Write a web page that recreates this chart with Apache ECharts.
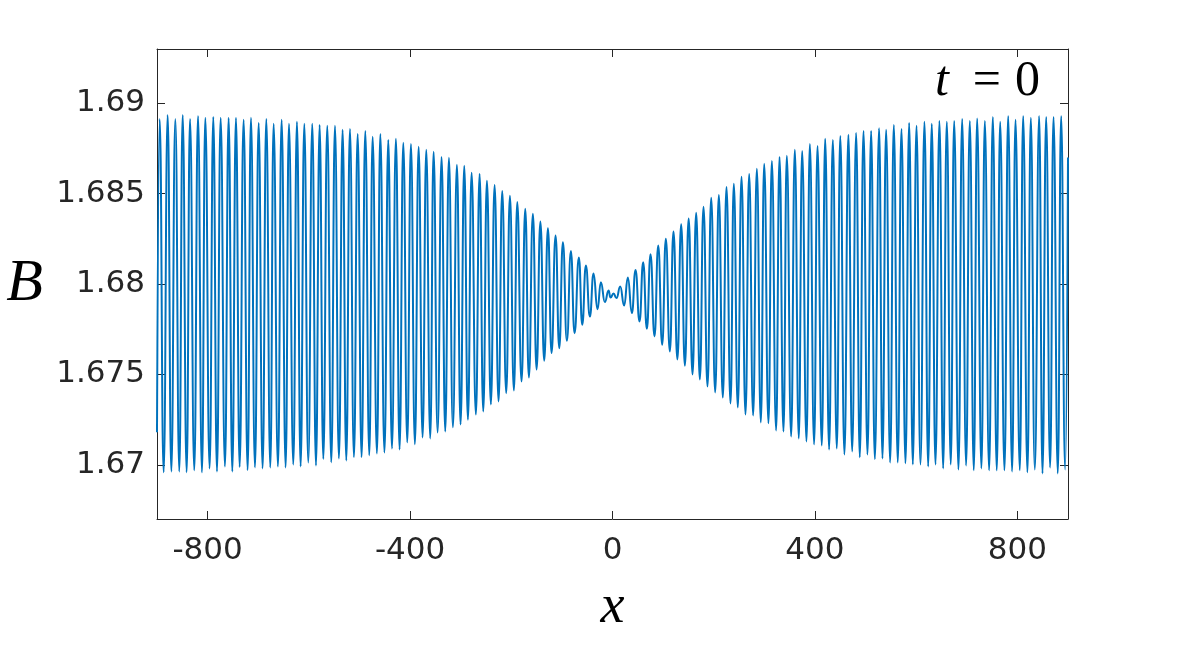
<!DOCTYPE html>
<html>
<head>
<meta charset="utf-8">
<script src="https://cdn.jsdelivr.net/npm/echarts@6/dist/echarts.min.js"></script>
<style>html,body{margin:0;padding:0;background:#fff}#c{width:1180px;height:650px}</style>
</head>
<body>
<div id="c"></div>
<script>
// Local maxima of B(x)
const peakX = [
-894.7,-878.9,-863.8,-849.3,-834.8,-819.0,-804.6,-788.8,-774.3,-758.5,
-744.0,-728.9,-714.4,-699.2,-684.1,-669.6,-653.8,-639.3,-623.5,-609.0,
-593.2,-578.7,-563.6,-548.4,-533.3,-518.8,-503.6,-488.5,-474.0,-458.8,
-443.0,-427.9,-413.4,-398.3,-383.1,-368.0,-353.5,-337.7,-323.2,-307.4,
-292.9,-278.4,-262.6,-248.1,-233.0,-217.9,-202.7,-188.2,-172.4,-157.3,
-142.5,-127.6,-112.5,-98.0,-82.2,-66.4,-52.6,-37.5,-23.0,-7.8,
2.0,15.2,30.3,45.5,60.6,75.1,90.3,105.4,120.5,135.7,
150.5,165.3,179.8,195.0,210.1,225.2,239.7,254.9,270.0,285.2,
299.7,314.8,330.0,344.4,360.2,374.7,389.9,405.0,420.2,435.3,
450.0,466.1,481.4,495.9,511.0,526.8,540.6,555.8,570.9,586.1,
600.6,616.4,630.8,646.0,660.5,675.0,690.8,705.9,720.4,735.6,
751.4,765.9,781.7,796.2,811.3,826.5,843.0,856.8,871.3,886.4
];
const peakB = [
1.68913,1.68935,1.68913,1.68935,1.68913,1.68930,1.68919,1.68924,1.68919,1.68919,
1.68919,1.68908,1.68919,1.68891,1.68913,1.68886,1.68908,1.68886,1.68897,1.68886,
1.68886,1.68880,1.68875,1.68875,1.68853,1.68858,1.68830,1.68847,1.68814,1.68830,
1.68797,1.68803,1.68781,1.68775,1.68759,1.68742,1.68731,1.68703,1.68698,1.68659,
1.68654,1.68615,1.68609,1.68571,1.68548,1.68515,1.68488,1.68454,1.68416,1.68388,
1.68346,1.68309,1.68268,1.68231,1.68183,1.68147,1.68102,1.68058,1.68010,1.67964,
1.67947,1.67986,1.68036,1.68078,1.68121,1.68165,1.68213,1.68250,1.68290,1.68331,
1.68362,1.68394,1.68427,1.68477,1.68493,1.68537,1.68554,1.68593,1.68609,1.68637,
1.68665,1.68681,1.68703,1.68709,1.68742,1.68736,1.68775,1.68764,1.68803,1.68797,
1.68819,1.68825,1.68836,1.68847,1.68847,1.68862,1.68853,1.68880,1.68858,1.68891,
1.68875,1.68897,1.68886,1.68902,1.68897,1.68902,1.68913,1.68902,1.68915,1.68902,
1.68924,1.68897,1.68930,1.68908,1.68930,1.68919,1.68930,1.68924,1.68924,1.68930
];
// Local minima of B(x)
const troughX = [
-886.9,-871.7,-855.9,-841.4,-826.3,-811.1,-796.0,-781.5,-765.7,-751.2,
-736.7,-720.9,-706.4,-691.3,-676.1,-661.0,-645.8,-630.7,-616.2,-601.1,
-585.9,-571.4,-555.6,-540.5,-526.0,-510.8,-495.7,-480.5,-465.4,-450.6,
-435.8,-420.7,-405.5,-390.4,-375.2,-360.1,-345.6,-330.5,-315.3,-300.2,
-285.7,-269.9,-255.4,-240.3,-225.1,-210.0,-194.8,-179.7,-165.2,-150.0,
-134.9,-120.4,-105.2,-90.1,-75.0,-59.8,-44.7,-29.6,-15.1,-3.9,
8.0,23.1,38.3,53.4,67.9,83.0,98.2,113.3,128.2,143.0,
158.1,172.6,187.7,202.9,218.0,233.2,247.6,262.8,277.9,293.1,
308.2,323.3,337.8,353.0,368.1,383.3,398.4,413.6,428.0,443.2,
458.3,473.5,488.6,503.8,518.3,533.4,548.6,563.7,578.9,593.4,
608.5,623.7,638.1,653.3,668.4,683.6,698.7,713.9,729.0,744.2,
759.3,774.5,789.6,804.8,819.9,834.4,849.6,864.7,879.9,894.4
];
const troughB = [
1.66958,1.66963,1.66963,1.66958,1.66969,1.66958,1.66980,1.66963,1.66991,1.66963,
1.66987,1.66969,1.66985,1.66980,1.66985,1.66991,1.66985,1.67002,1.66991,1.67013,
1.66996,1.67032,1.67013,1.67035,1.67024,1.67041,1.67041,1.67052,1.67063,1.67068,
1.67090,1.67085,1.67124,1.67113,1.67151,1.67146,1.67179,1.67184,1.67207,1.67223,
1.67249,1.67278,1.67295,1.67334,1.67350,1.67396,1.67411,1.67461,1.67483,1.67527,
1.67575,1.67618,1.67645,1.67686,1.67728,1.67774,1.67820,1.67861,1.67900,1.67925,
1.67922,1.67881,1.67839,1.67793,1.67752,1.67710,1.67664,1.67627,1.67583,1.67548,
1.67500,1.67472,1.67433,1.67400,1.67372,1.67339,1.67317,1.67278,1.67273,1.67234,
1.67229,1.67190,1.67184,1.67157,1.67146,1.67129,1.67113,1.67107,1.67085,1.67090,
1.67057,1.67074,1.67041,1.67057,1.67030,1.67035,1.67013,1.67013,1.67008,1.67002,
1.67002,1.66991,1.67002,1.66980,1.67002,1.66974,1.66996,1.66969,1.66980,1.66969,
1.66969,1.66969,1.66963,1.66969,1.66958,1.66974,1.66952,1.66985,1.66952,1.66974
];
// Values at the two ends of the domain
const edgeX = [-900, 900];
const edgeB = [1.6718, 1.6870];

const xTicks = [-800, -400, 0, 400, 800];
const yTicks = [1.67, 1.675, 1.68, 1.685, 1.69];

const pts = [];
peakX.forEach((x, i) => pts.push([x, peakB[i]]));
troughX.forEach((x, i) => pts.push([x, troughB[i]]));
edgeX.forEach((x, i) => pts.push([x, edgeB[i]]));
pts.sort((a, b) => a[0] - b[0]);

const ink = '#262626';
const tickFont = { fontFamily: 'DejaVu Sans', fontSize: 31, color: ink };
const axLine = { show: true, onZero: false, lineStyle: { color: ink, width: 1 } };
const serif = 'Liberation Serif';

const chart = echarts.init(document.getElementById('c'), null, { renderer: 'canvas' });
chart.setOption({
  animation: false,
  backgroundColor: '#fff',
  grid: { left: 157, right: 112, top: 49, bottom: 131, containLabel: false },
  xAxis: [
    {
      type: 'value', min: -900, max: 900, position: 'bottom',
      axisLine: axLine,
      axisTick: { show: true, inside: true, length: 8, customValues: xTicks, lineStyle: { color: ink } },
      axisLabel: Object.assign({ customValues: xTicks, margin: 16 }, tickFont),
      splitLine: { show: false },
      name: 'x', nameLocation: 'middle', nameGap: 62,
      nameTextStyle: { fontFamily: serif, fontStyle: 'italic', fontSize: 54, color: '#000' }
    },
    {
      type: 'value', min: -900, max: 900, position: 'top',
      axisLine: axLine,
      axisTick: { show: true, inside: true, length: 8, customValues: xTicks, lineStyle: { color: ink } },
      axisLabel: { show: false },
      splitLine: { show: false }
    }
  ],
  yAxis: [
    {
      type: 'value', min: 1.667, max: 1.693, position: 'left',
      axisLine: axLine,
      axisTick: { show: true, inside: true, length: 8, customValues: yTicks, lineStyle: { color: ink } },
      axisLabel: Object.assign({ customValues: yTicks, margin: 12 }, tickFont),
      splitLine: { show: false },
      name: 'B', nameLocation: 'middle', nameGap: 114, nameRotate: 0,
      nameTextStyle: { fontFamily: serif, fontStyle: 'italic', fontSize: 60, color: '#000', padding: [0, 0, 8, 0] }
    },
    {
      type: 'value', min: 1.667, max: 1.693, position: 'right',
      axisLine: axLine,
      axisTick: { show: true, inside: true, length: 8, customValues: yTicks, lineStyle: { color: ink } },
      axisLabel: { show: false },
      splitLine: { show: false }
    }
  ],
  graphic: [{
    type: 'text', right: 140, top: 57,
    style: {
      text: '{i|t}{e|=}{n|0}',
      rich: {
        i: { fontFamily: serif, fontStyle: 'italic', fontSize: 50, fill: '#000', padding: [0, 24, 0, 0] },
        e: { fontFamily: serif, fontSize: 50, fill: '#000', padding: [0, 14, 0, 0] },
        n: { fontFamily: serif, fontSize: 50, fill: '#000' }
      }
    }
  }],
  series: [{
    type: 'line', xAxisIndex: 0, yAxisIndex: 0,
    data: pts, symbol: 'none', showSymbol: false,
    smooth: 0.5, smoothMonotone: 'x',
    lineStyle: { color: '#0072BD', width: 2 },
    clip: true
  }]
});
</script>
</body>
</html>
